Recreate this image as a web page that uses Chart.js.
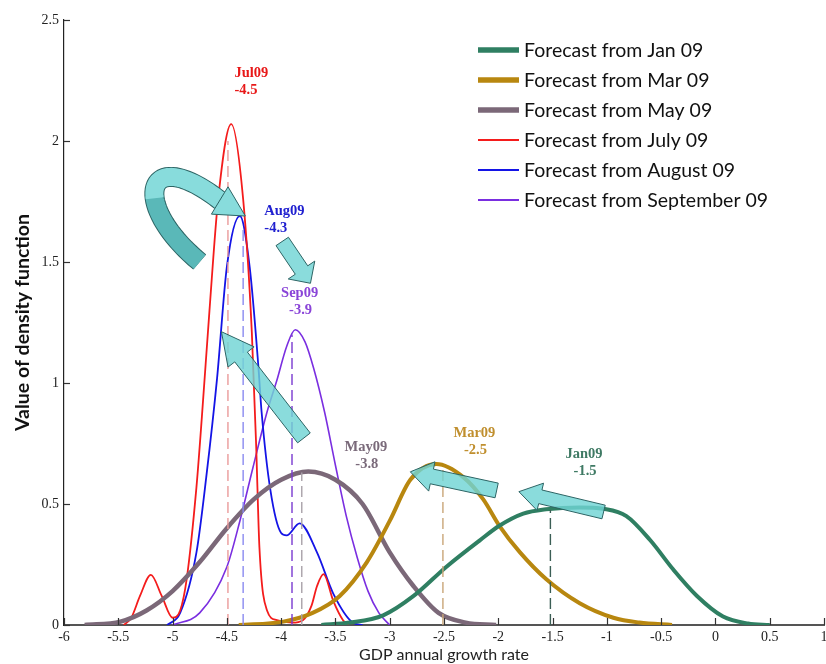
<!DOCTYPE html>
<html>
<head>
<meta charset="utf-8">
<script src="https://cdn.jsdelivr.net/npm/chart.js@4.4.0/dist/chart.umd.min.js"></script>
<style>
html, body { margin: 0; padding: 0; background: #fff; }
#wrap { width: 826px; height: 664px; }
</style>
</head>
<body>
<div id="wrap"><canvas id="mainChart" width="826" height="664"></canvas></div>
<script>
// density curves (x = GDP growth, y = density)
const janX = [-3.63, -3.37, -3.06, -2.78, -2.48, -2.17, -1.99, -1.77, -1.56, -1.25, -1.03, -0.82, -0.60, -0.39, -0.17, 0.07, 0.30, 0.50];
const janY = [0, 0.01, 0.04, 0.12, 0.24, 0.35, 0.41, 0.46, 0.478, 0.486, 0.48, 0.45, 0.35, 0.23, 0.12, 0.035, 0.006, 0];
const marX = [-4.39, -3.98, -3.71, -3.46, -3.21, -3.0, -2.81, -2.57, -2.32, -2.14, -1.99, -1.80, -1.56, -1.25, -0.94, -0.70, -0.40];
const marY = [0, 0.014, 0.05, 0.12, 0.26, 0.43, 0.60, 0.665, 0.61, 0.52, 0.41, 0.30, 0.19, 0.09, 0.03, 0.01, 0];
const mayX = [-5.81, -5.48, -5.24, -5.0, -4.75, -4.5, -4.25, -4.0, -3.75, -3.5, -3.25, -3.0, -2.78, -2.55, -2.30, -2.02];
const mayY = [0, 0.014, 0.06, 0.14, 0.26, 0.40, 0.52, 0.60, 0.634, 0.60, 0.50, 0.30, 0.16, 0.05, 0.01, 0];
const julX = [-5.45, -5.38, -5.30, -5.20, -5.10, -5.0, -4.93, -4.87, -4.78, -4.73, -4.66, -4.58, -4.46, -4.35, -4.27, -4.23, -4.20, -4.13, -4.04, -3.90, -3.80, -3.72, -3.67, -3.61, -3.52, -3.43, -3.38];
const julY = [0, 0.03, 0.12, 0.207, 0.12, 0.03, 0.06, 0.19, 0.57, 0.86, 1.30, 1.76, 2.07, 1.76, 1.21, 0.74, 0.32, 0.06, 0.02, 0.01, 0.02, 0.08, 0.16, 0.21, 0.10, 0.02, 0];
const augX = [-5.05, -4.93, -4.78, -4.69, -4.59, -4.50, -4.38, -4.29, -4.21, -4.18, -4.10, -4.00, -3.95, -3.83, -3.67, -3.52, -3.34, -3.25];
const augY = [0, 0.05, 0.30, 0.61, 1.02, 1.48, 1.69, 1.48, 1.07, 0.88, 0.56, 0.38, 0.37, 0.42, 0.30, 0.13, 0.01, 0];
const sepX = [-5.0, -4.75, -4.5, -4.38, -4.26, -4.13, -4.04, -3.95, -3.87, -3.78, -3.70, -3.60, -3.50, -3.40, -3.30, -3.20, -3.10, -3.0];
const sepY = [0, 0.05, 0.24, 0.43, 0.65, 0.88, 1.01, 1.15, 1.22, 1.17, 1.06, 0.88, 0.66, 0.45, 0.28, 0.14, 0.05, 0];

const seriesNames = ['Forecast from Jan 09', 'Forecast from Mar 09', 'Forecast from May 09', 'Forecast from July 09', 'Forecast from August 09', 'Forecast from September 09'];
const shortNames = ['Jan09', 'Mar09', 'May09', 'Jul09', 'Aug09', 'Sep09'];
const meanValues = [-1.5, -2.5, -3.8, -4.5, -4.3, -3.9];      // printed values
const meanPos = [-1.52, -2.51, -3.81, -4.49, -4.35, -3.90];    // where the dashed lines stand
const meanTop = [0.475, 0.65, 0.63, 2.0, 1.65, 1.2];

const colors = ['#2f7f62', '#b8870f', '#7b6878', '#f41c1c', '#1414e6', '#7a2ee0'];
const dashColors = ['#3b5e55', '#c9a678', '#a9a1a9', '#ea9a9a', '#8a8af0', '#7a3ad0'];
const textColors = ['#3f7a64', '#c08f2e', '#7a6a7a', '#e81818', '#2020d0', '#8a44d8'];
const widths = [4, 4, 4.5, 1.8, 1.8, 1.6];

const xs = [janX, marX, mayX, julX, augX, sepX];
const ys = [janY, marY, mayY, julY, augY, sepY];

// label anchors (data coords) and arrows
const labelAt = [[-1.21, 0.707, 'center'], [-2.22, 0.793, 'center'], [-3.22, 0.736, 'center'], [-4.43, 2.281, 'left'], [-4.155, 1.711, 'left'], [-3.83, 1.372, 'center']];
const arrows = [
    { from: [-3.99, 1.585], to: [-3.73, 1.412], w: 15, hw: 32, hl: 16 },
    { from: [-3.79, 0.773], to: [-4.55, 1.212], w: 16, hw: 33, hl: 32 },
    { from: [-2.015, 0.556], to: [-2.81, 0.633], w: 15, hw: 30, hl: 22 },
    { from: [-1.03, 0.467], to: [-1.81, 0.551], w: 14, hw: 28, hl: 22 }
];
const loopArrow = { p0: [-4.75, 1.50], c1: [-5.40, 1.74], c2: [-5.26, 2.00], p3: [-4.55, 1.75], tip: [-4.33, 1.69], w: 18, hw: 32 };

const datasets = [];
xs.forEach((xv, i) => {
    datasets.push({
        label: seriesNames[i],
        data: xv.map((x, k) => ({ x: x, y: ys[i][k] })),
        borderColor: colors[i],
        borderWidth: widths[i],
        pointRadius: 0,
        cubicInterpolationMode: 'monotone',
        fill: false,
        order: i < 3 ? 1 : 2,
        isCurve: true
    });
});
meanPos.forEach((m, i) => {
    datasets.push({
        label: shortNames[i] + ' mean',
        data: [{ x: m, y: 0 }, { x: m, y: meanTop[i] }],
        borderColor: dashColors[i],
        borderWidth: 1.4,
        borderDash: [11, 5],
        pointRadius: 0,
        order: 0
    });
});

function arrowPath(ctx, tx, ty, hx, hy, w, hw, hl) {
    const dx = hx - tx, dy = hy - ty, L = Math.hypot(dx, dy);
    const ux = dx / L, uy = dy / L, nx = -uy, ny = ux;
    const bx = hx - ux * hl, by = hy - uy * hl;
    ctx.beginPath();
    ctx.moveTo(tx + nx * w / 2, ty + ny * w / 2);
    ctx.lineTo(bx + nx * w / 2, by + ny * w / 2);
    ctx.lineTo(bx + nx * hw / 2, by + ny * hw / 2);
    ctx.lineTo(hx, hy);
    ctx.lineTo(bx - nx * hw / 2, by - ny * hw / 2);
    ctx.lineTo(bx - nx * w / 2, by - ny * w / 2);
    ctx.lineTo(tx - nx * w / 2, ty - ny * w / 2);
    ctx.closePath();
}

const extras = {
    id: 'extras',
    afterDraw(chart) {
        const { ctx, chartArea: a, scales: { x, y } } = chart;
        const px = v => x.getPixelForValue(v), py = v => y.getPixelForValue(v);
        ctx.save();

        // inward tick marks
        ctx.strokeStyle = '#333';
        ctx.lineWidth = 1.2;
        x.ticks.forEach(t => {
            const p = Math.round(px(t.value)) + 0.5;
            ctx.beginPath(); ctx.moveTo(p, a.bottom); ctx.lineTo(p, a.bottom - 7); ctx.stroke();
        });
        y.ticks.forEach(t => {
            const p = Math.round(py(t.value)) + 0.5;
            ctx.beginPath(); ctx.moveTo(a.left, p); ctx.lineTo(a.left + 6, p); ctx.stroke();
        });

        // curve labels
        ctx.font = 'bold 14.5px "Liberation Serif"';
        ctx.textBaseline = 'middle';
        labelAt.forEach((l, i) => {
            ctx.fillStyle = textColors[i];
            ctx.textAlign = l[2];
            const lx = px(l[0]), ly = py(l[1]);
            ctx.fillText(shortNames[i], lx, ly);
            ctx.fillText(String(meanValues[i]), lx + (l[2] === 'center' ? 1 : 0), ly + 17);
        });

        // straight arrows
        ctx.lineWidth = 1;
        ctx.strokeStyle = '#2c6464';
        arrows.forEach(ar => {
            arrowPath(ctx, px(ar.from[0]), py(ar.from[1]), px(ar.to[0]), py(ar.to[1]), ar.w, ar.hw, ar.hl);
            ctx.fillStyle = 'rgba(112,212,212,0.82)';
            ctx.fill();
            ctx.stroke();
        });

        // curved arrow
        const P = [loopArrow.p0, loopArrow.c1, loopArrow.c2, loopArrow.p3].map(p => [px(p[0]), py(p[1])]);
        const bez = t => {
            const m = 1 - t;
            return [
                m * m * m * P[0][0] + 3 * m * m * t * P[1][0] + 3 * m * t * t * P[2][0] + t * t * t * P[3][0],
                m * m * m * P[0][1] + 3 * m * m * t * P[1][1] + 3 * m * t * t * P[2][1] + t * t * t * P[3][1]
            ];
        };
        const strokePart = (t0, t1, lw, col) => {
            ctx.beginPath();
            for (let k = 0; k <= 40; k++) {
                const q = bez(t0 + (t1 - t0) * k / 40);
                if (k === 0) ctx.moveTo(q[0], q[1]); else ctx.lineTo(q[0], q[1]);
            }
            ctx.lineWidth = lw;
            ctx.strokeStyle = col;
            ctx.lineCap = 'butt';
            ctx.stroke();
        };
        strokePart(0, 1, loopArrow.w + 2, '#2c6464');
        strokePart(0, 0.42, loopArrow.w, '#5ab8b8');
        strokePart(0.4, 1, loopArrow.w, '#88dcdc');
        const end = bez(1);
        const tipX = px(loopArrow.tip[0]), tipY = py(loopArrow.tip[1]);
        const hl = Math.hypot(tipX - end[0], tipY - end[1]);
        const ux = (tipX - end[0]) / hl, uy = (tipY - end[1]) / hl;
        arrowPath(ctx, end[0] - ux * 2, end[1] - uy * 2, tipX, tipY, loopArrow.w, loopArrow.hw, hl + 2);
        ctx.fillStyle = '#88dcdc';
        ctx.lineWidth = 1;
        ctx.strokeStyle = '#2c6464';
        ctx.fill();
        ctx.stroke();

        // legend
        const lx0 = a.left + 414, ly0 = a.top + 30;
        ctx.font = '19.5px Lato';
        ctx.textAlign = 'left';
        ctx.textBaseline = 'middle';
        chart.data.datasets.filter(d => d.isCurve).forEach((d, i) => {
            const yy = ly0 + i * 30;
            ctx.strokeStyle = d.borderColor;
            ctx.lineWidth = d.borderWidth > 3 ? 5.5 : 2;
            ctx.beginPath(); ctx.moveTo(lx0, yy); ctx.lineTo(lx0 + 41, yy); ctx.stroke();
            ctx.fillStyle = '#111';
            ctx.fillText(d.label, lx0 + 46, yy + 1);
        });
        ctx.restore();
    }
};

const ctx = document.getElementById('mainChart').getContext('2d');
const chart = new Chart(ctx, {
    type: 'line',
    data: { datasets: datasets },
    options: {
        responsive: false,
        animation: false,
        layout: { padding: { top: 20, right: 2, left: 0, bottom: 0 } },
        scales: {
            x: {
                type: 'linear',
                min: -6,
                max: 1,
                afterFit: s => { s.height = 39; s.paddingRight = 0; },
                grid: { drawOnChartArea: false, drawTicks: false },
                border: { color: '#555', width: 2 },
                ticks: {
                    stepSize: 0.5,
                    padding: 4,
                    autoSkip: false,
                    maxRotation: 0,
                    color: '#222',
                    font: { family: 'Liberation Serif', size: 14 },
                    callback: v => String(v)
                },
                title: {
                    display: true,
                    text: 'GDP annual growth rate',
                    color: '#222',
                    font: { family: 'Lato', size: 16 },
                    padding: { top: 0, bottom: 0 }
                }
            },
            y: {
                min: 0,
                max: 2.5,
                afterFit: s => { s.width = 64; },
                grid: { drawOnChartArea: false, drawTicks: false },
                border: { color: '#222', width: 1.2 },
                ticks: {
                    stepSize: 0.5,
                    padding: 5,
                    color: '#222',
                    font: { family: 'Liberation Serif', size: 14 },
                    callback: v => String(v)
                },
                title: {
                    display: true,
                    text: 'Value of density function',
                    color: '#111',
                    font: { family: 'Lato', size: 19.5, weight: 'bold' },
                    padding: { top: 11, bottom: 0 }
                }
            }
        },
        plugins: {
            legend: { display: false },
            tooltip: { enabled: false }
        }
    },
    plugins: [extras]
});
</script>
</body>
</html>
